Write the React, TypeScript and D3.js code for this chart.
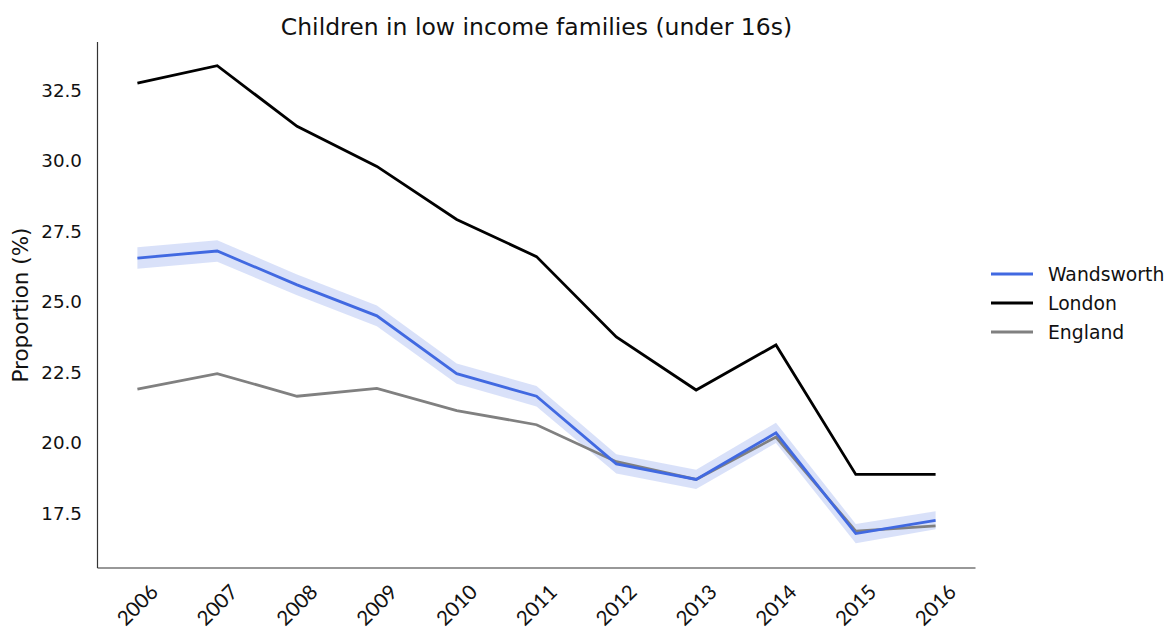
import React from "react";
import * as d3 from "d3";

const years = [2006, 2007, 2008, 2009, 2010, 2011, 2012, 2013, 2014, 2015, 2016];
const wandsworth = [26.55, 26.8, 25.6, 24.5, 22.45, 21.65, 19.25, 18.7, 20.35, 16.78, 17.25];
const wandsworthCI = [0.38, 0.38, 0.37, 0.37, 0.36, 0.36, 0.34, 0.34, 0.36, 0.34, 0.32];
const london = [32.75, 33.37, 31.22, 29.8, 27.92, 26.6, 23.75, 21.87, 23.47, 18.88, 18.88];
const england = [21.9, 22.45, 21.65, 21.93, 21.14, 20.64, 19.33, 18.7, 20.2, 16.87, 17.05];
const yTicks = [17.5, 20.0, 22.5, 25.0, 27.5, 30.0, 32.5];
const seriesNames = ["Wandsworth", "London", "England"];
const seriesColors = ["#4169e1", "#000000", "#808080"];

export default function App() {
  const W = 1173, H = 629;
  const left = 97.5, right = 975.5, top = 42, bottom = 568;
  const x = d3.scaleLinear().domain([2005.5, 2016.5]).range([left, right]);
  const y = d3.scaleLinear().domain([15.56, 34.21]).range([bottom, top]);
  const line = d3.line<number>().x((_, i) => x(years[i])).y((d) => y(d));
  const area = d3
    .area<number>()
    .x((_, i) => x(years[i]))
    .y0((d, i) => y(d - wandsworthCI[i]))
    .y1((d, i) => y(d + wandsworthCI[i]));
  const font = "'DejaVu Sans', sans-serif";
  const data = [wandsworth, london, england];
  return (
    <svg width={W} height={H} style={{ position: "absolute", left: 0, top: 0, background: "#fff" }} fontFamily={font}>
      <rect width={W} height={H} fill="#fff" />
      <text x={536.5} y={35} textAnchor="middle" fontSize={23.5} fill="#111">
        Children in low income families (under 16s)
      </text>
      <path d={area(wandsworth) || ""} fill="#4169e1" fillOpacity={0.2} stroke="none" />
      {[2, 1, 0].map((k) => (
        <path key={k} d={line(data[k]) || ""} fill="none" stroke={seriesColors[k]} strokeWidth={2.8} strokeLinejoin="miter" />
      ))}
      <line x1={left} x2={left} y1={top} y2={bottom} stroke="#333" strokeWidth={1.2} />
      <line x1={left} x2={right} y1={bottom} y2={bottom} stroke="#333" strokeWidth={1.2} />
      {yTicks.map((t) => (
        <text key={t} x={82} y={y(t)} dy="0.35em" textAnchor="end" fontSize={18.3} fill="#111">
          {t.toFixed(1)}
        </text>
      ))}
      {years.map((yr) => (
        <text
          key={yr}
          transform={`translate(${x(yr)},${605}) rotate(-45)`}
          textAnchor="middle"
          dy="0.35em"
          fontSize={20.5}
          fontFamily="Lato, sans-serif"
          fill="#111"
        >
          {yr}
        </text>
      ))}
      <text transform={`translate(28,${305}) rotate(-90)`} textAnchor="middle" fontSize={21.5} fill="#111">
        Proportion (%)
      </text>
      {seriesNames.map((n, i) => (
        <g key={n} transform={`translate(991,${274 + i * 29})`}>
          <line x1={0} x2={42} y1={0} y2={0} stroke={seriesColors[i]} strokeWidth={2.8} />
          <text x={57} y={0} dy="0.35em" fontSize={18.8} fill="#111">
            {n}
          </text>
        </g>
      ))}
    </svg>
  );
}
